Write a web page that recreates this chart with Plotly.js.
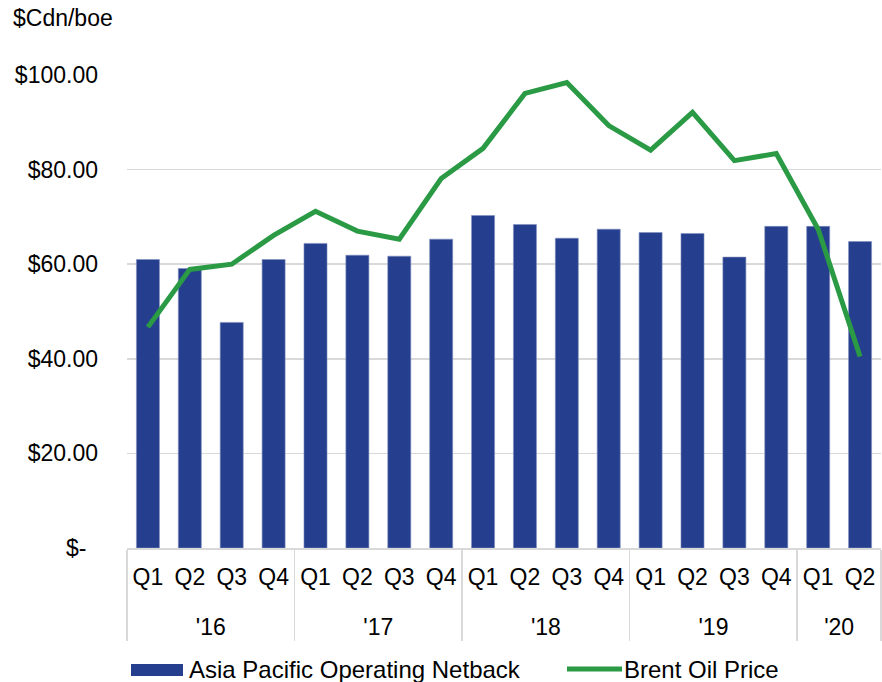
<!DOCTYPE html>
<html>
<head>
<meta charset="utf-8">
<script src="https://cdn.plot.ly/plotly-3.0.1.min.js"></script>
<style>html,body{margin:0;padding:0;background:#fff;}#chart{width:882px;height:682px;}</style>
</head>
<body>
<div id="chart"></div>
<script>
const years = ["'16","'16","'16","'16","'17","'17","'17","'17","'18","'18","'18","'18","'19","'19","'19","'19","'20","'20"];
const quarters = ["Q1","Q2","Q3","Q4","Q1","Q2","Q3","Q4","Q1","Q2","Q3","Q4","Q1","Q2","Q3","Q4","Q1","Q2"];
const netback = [61.0,59.1,47.7,61.0,64.4,61.9,61.7,65.3,70.3,68.4,65.5,67.4,66.7,66.5,61.5,68.0,68.0,64.8];
const brent = [46.7,58.9,60.0,66.1,71.2,67.0,65.3,78.1,84.5,96.1,98.4,89.3,84.1,92.1,81.9,83.4,67.4,40.5];
const yTickVals = [0,20,40,60,80,100];
const yTickText = ["","$20.00","$40.00","$60.00","$80.00","$100.00"];
const seriesNames = ["Asia Pacific Operating Netback","Brent Oil Price"];

const FONT = "Liberation Sans, Arial, sans-serif";
const BLUE = "#253f8e";
const GREEN = "#2a9a45";
const FS = 23;

// outer (year) labels shown one line lower, as in the reference
const yearLabels = years.map(y => "<br>" + y);

const traces = [
  {type:"bar", x:[yearLabels, quarters], y:netback, name:seriesNames[0],
   marker:{color:BLUE, line:{color:"#8390bf", width:0.6}}, showlegend:false, hoverinfo:"y"},
  {type:"scatter", mode:"lines", x:[yearLabels, quarters], y:brent, name:seriesNames[1],
   line:{color:GREEN, width:5}, showlegend:false, hoverinfo:"y"}
];

const layout = {
  width:882, height:682,
  margin:{l:127, r:1, t:75, b:134},
  paper_bgcolor:"#fff", plot_bgcolor:"#fff",
  font:{family:FONT, size:FS, color:"#000"},
  bargap:0.45,
  showlegend:false,
  xaxis:{type:"multicategory", showgrid:false, showline:true, linecolor:"#d9d9d9", linewidth:1.5,
         showdividers:true, dividercolor:"#d9d9d9", dividerwidth:1.5,
         ticklabelstandoff:8,
         tickfont:{family:FONT, size:FS, color:"#000"}, ticks:"", zeroline:false},
  yaxis:{range:[0,100], tickvals:yTickVals, ticktext:yTickText, showgrid:true, gridcolor:"#d9d9d9", gridwidth:1.5,
         zeroline:false, showline:false, ticks:"", ticklabelstandoff:28,
         tickfont:{family:FONT, size:FS, color:"#000"}},
  annotations:[
    {xref:"paper", yref:"paper", x:-(127-11)/754, y:1+ (75-18)/473, xanchor:"left", yanchor:"middle",
     text:"$Cdn/boe", showarrow:false, font:{family:FONT, size:FS, color:"#000"}},
    {xref:"paper", yref:"y", x:-(127-88)/754, y:0, xanchor:"right", yanchor:"middle",
     text:"$-", showarrow:false, font:{family:FONT, size:FS, color:"#000"}},
    {xref:"paper", yref:"paper", x:(187-127)/754, y:-(669-548)/473, xanchor:"left", yanchor:"middle",
     text:seriesNames[0], showarrow:false, font:{family:FONT, size:24, color:"#000"}},
    {xref:"paper", yref:"paper", x:(622-127)/754, y:-(669-548)/473, xanchor:"left", yanchor:"middle",
     text:seriesNames[1], showarrow:false, font:{family:FONT, size:24, color:"#000"}}
  ],
  shapes:[
    {type:"rect", xref:"paper", yref:"paper", x0:(131-127)/754, x1:(183-127)/754,
     y0:-(676-548)/473, y1:-(664-548)/473, fillcolor:BLUE, line:{width:0}},
    {type:"line", xref:"paper", yref:"paper", x0:(567-127)/754, x1:(622-127)/754,
     y0:-(669-548)/473, y1:-(669-548)/473, line:{color:GREEN, width:5}}
  ]
};

Plotly.newPlot("chart", traces, layout, {displayModeBar:false, staticPlot:true});
</script>
</body>
</html>
